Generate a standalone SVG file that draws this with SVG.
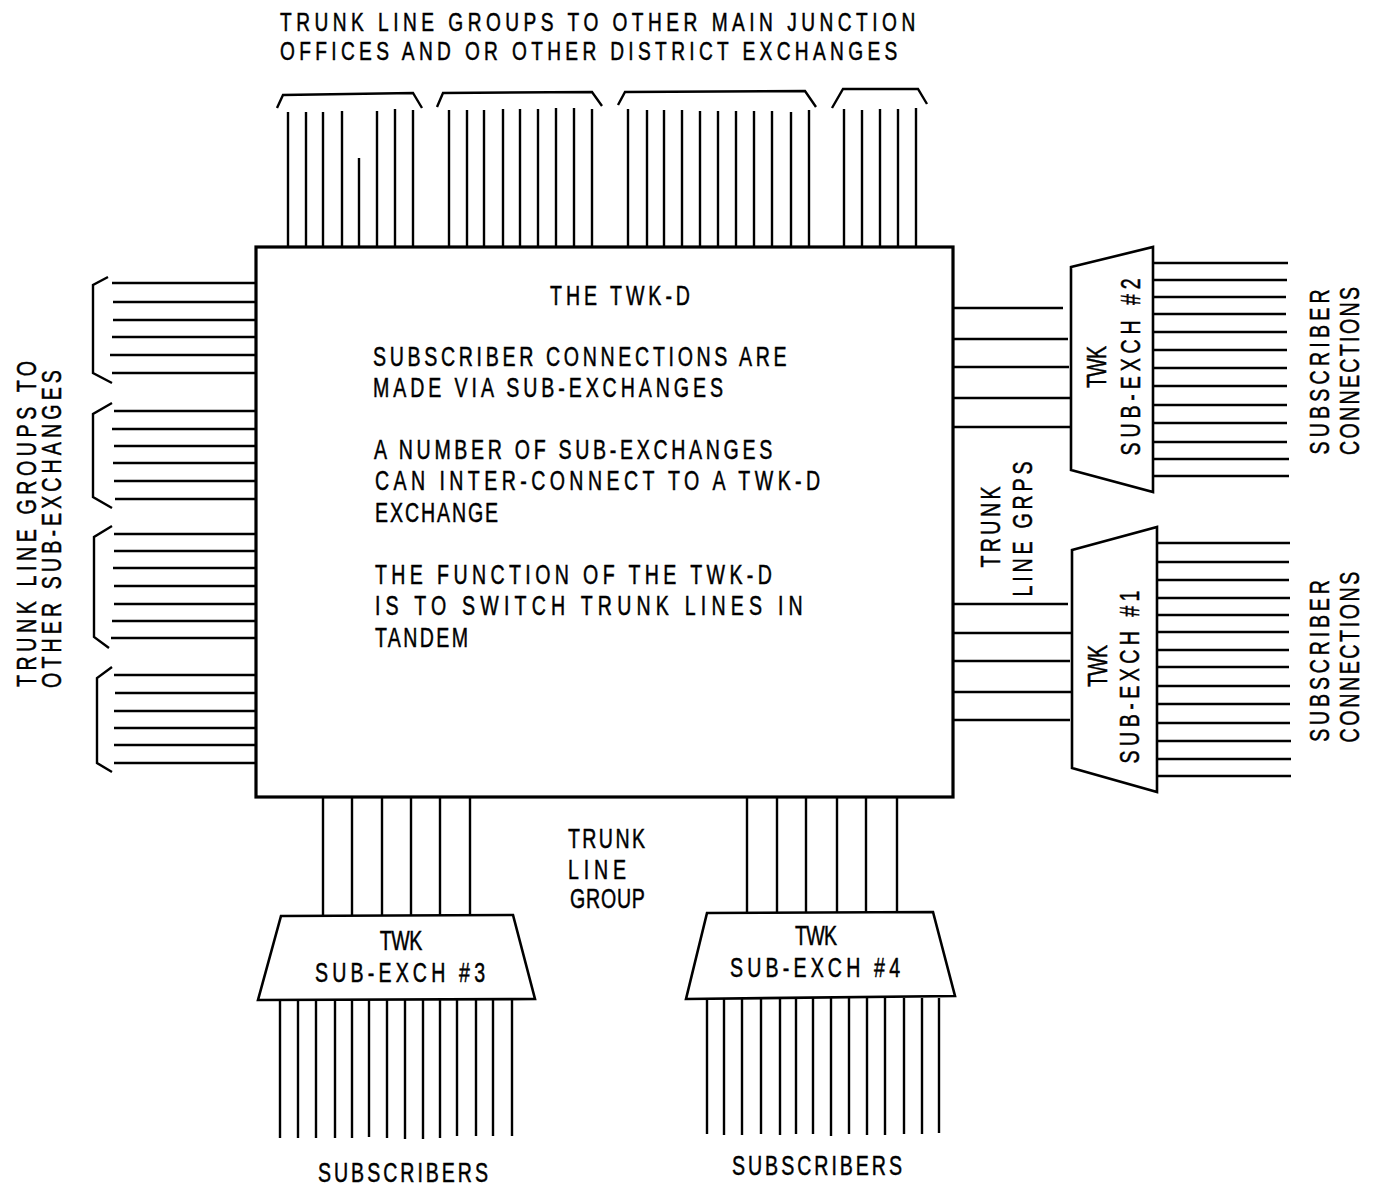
<svg xmlns="http://www.w3.org/2000/svg" width="1377" height="1187" viewBox="0 0 1377 1187">
<style>
.ln{stroke:#000;stroke-width:2.4;fill:none;stroke-linecap:butt}
.br{stroke:#000;stroke-width:2.4;fill:none;stroke-linejoin:miter}
.box{stroke:#000;stroke-width:3.2;fill:#fff}
.tz{stroke:#000;stroke-width:2.6;fill:#fff;stroke-linejoin:miter}
text{font-family:"Liberation Sans",Arial,sans-serif;font-size:28px;fill:#000;stroke:#000;stroke-width:0.5}
.hd{font-size:25.5px}
</style>
<rect width="1377" height="1187" fill="#fff"/>
<g id="connectors">
<g class="ln">
<line x1="288" y1="112" x2="288" y2="247"/><line x1="306" y1="112" x2="306" y2="247"/><line x1="323" y1="112" x2="323" y2="247"/><line x1="342" y1="111" x2="342" y2="247"/><line x1="359" y1="158" x2="359" y2="247"/><line x1="377" y1="111" x2="377" y2="247"/><line x1="395" y1="109" x2="395" y2="247"/><line x1="413" y1="110" x2="413" y2="247"/>
<line x1="449" y1="110" x2="449" y2="247"/><line x1="467" y1="110" x2="467" y2="247"/><line x1="484" y1="110" x2="484" y2="247"/><line x1="503" y1="109" x2="503" y2="247"/><line x1="520" y1="109" x2="520" y2="247"/><line x1="538" y1="109" x2="538" y2="247"/><line x1="556" y1="108" x2="556" y2="247"/><line x1="574" y1="108" x2="574" y2="247"/><line x1="592" y1="109" x2="592" y2="247"/>
<line x1="628" y1="109" x2="628" y2="247"/><line x1="647" y1="110" x2="647" y2="247"/><line x1="664" y1="110" x2="664" y2="247"/><line x1="682" y1="110" x2="682" y2="247"/><line x1="700" y1="111" x2="700" y2="247"/><line x1="718" y1="111" x2="718" y2="247"/><line x1="736" y1="111" x2="736" y2="247"/><line x1="754" y1="111" x2="754" y2="247"/><line x1="772" y1="111" x2="772" y2="247"/><line x1="791" y1="112" x2="791" y2="247"/><line x1="809" y1="110" x2="809" y2="247"/>
<line x1="844" y1="109" x2="844" y2="247"/><line x1="862" y1="110" x2="862" y2="247"/><line x1="880" y1="109" x2="880" y2="247"/><line x1="898" y1="109" x2="898" y2="247"/><line x1="916" y1="108" x2="916" y2="247"/>
</g>
<path class="br" d="M277,108 L283,95 L413,93 L422,108"/>
<path class="br" d="M437,107 L443,93 L592,92 L602,106"/>
<path class="br" d="M618,105 L625,92 L805,91 L816,107"/>
<path class="br" d="M832,108 L843,89 L918,89 L927,104"/>
<g class="ln">
<line x1="112" y1="283" x2="256" y2="283"/><line x1="113" y1="302" x2="256" y2="302"/><line x1="113" y1="320" x2="256" y2="320"/><line x1="112" y1="337" x2="256" y2="337"/><line x1="110" y1="355" x2="256" y2="355"/><line x1="112" y1="373" x2="256" y2="373"/>
<line x1="114" y1="411" x2="256" y2="411"/><line x1="112" y1="429" x2="256" y2="429"/><line x1="114" y1="446" x2="256" y2="446"/><line x1="113" y1="463" x2="256" y2="463"/><line x1="114" y1="481" x2="256" y2="481"/><line x1="115" y1="499" x2="256" y2="499"/>
<line x1="114" y1="534" x2="256" y2="534"/><line x1="114" y1="551" x2="256" y2="551"/><line x1="113" y1="568" x2="256" y2="568"/><line x1="114" y1="586" x2="256" y2="586"/><line x1="114" y1="604" x2="256" y2="604"/><line x1="112" y1="621" x2="256" y2="621"/><line x1="111" y1="638" x2="256" y2="638"/>
<line x1="114" y1="675" x2="256" y2="675"/><line x1="115" y1="693" x2="256" y2="693"/><line x1="114" y1="711" x2="256" y2="711"/><line x1="114" y1="728" x2="256" y2="728"/><line x1="114" y1="745" x2="256" y2="745"/><line x1="114" y1="763" x2="256" y2="763"/>
</g>
<path class="br" d="M108,277 L93,285 L93,373 L112,383"/>
<path class="br" d="M112,403 L93,414 L93,497 L112,508"/>
<path class="br" d="M112,526 L94,537 L94,637 L109,648"/>
<path class="br" d="M112,667 L97,678 L97,763 L112,772"/>
<g class="ln">
<line x1="953" y1="308" x2="1063" y2="308"/><line x1="953" y1="339" x2="1068" y2="339"/><line x1="953" y1="367" x2="1069" y2="367"/><line x1="953" y1="398" x2="1070" y2="398"/><line x1="953" y1="427" x2="1070" y2="427"/>
</g>
<g class="ln">
<line x1="1153" y1="263" x2="1288" y2="263"/><line x1="1153" y1="280" x2="1287" y2="280"/><line x1="1153" y1="297" x2="1286" y2="297"/><line x1="1153" y1="314" x2="1286" y2="314"/><line x1="1153" y1="332" x2="1287" y2="332"/><line x1="1153" y1="350" x2="1287" y2="350"/><line x1="1153" y1="368" x2="1287" y2="368"/><line x1="1153" y1="386" x2="1287" y2="386"/><line x1="1153" y1="405" x2="1287" y2="405"/><line x1="1153" y1="423" x2="1287" y2="423"/><line x1="1153" y1="442" x2="1287" y2="442"/><line x1="1153" y1="459" x2="1289" y2="459"/><line x1="1153" y1="476" x2="1289" y2="476"/>
</g>
<g class="ln">
<line x1="953" y1="604" x2="1068" y2="604"/><line x1="953" y1="633" x2="1072" y2="633"/><line x1="953" y1="661" x2="1070" y2="661"/><line x1="953" y1="692" x2="1072" y2="692"/><line x1="953" y1="720" x2="1070" y2="720"/>
</g>
<g class="ln">
<line x1="1157" y1="543" x2="1290" y2="543"/><line x1="1157" y1="562" x2="1289" y2="562"/><line x1="1157" y1="580" x2="1289" y2="580"/><line x1="1157" y1="598" x2="1290" y2="598"/><line x1="1157" y1="615" x2="1289" y2="615"/><line x1="1157" y1="632" x2="1289" y2="632"/><line x1="1157" y1="650" x2="1289" y2="650"/><line x1="1157" y1="667" x2="1289" y2="667"/><line x1="1157" y1="686" x2="1290" y2="686"/><line x1="1157" y1="704" x2="1290" y2="704"/><line x1="1157" y1="723" x2="1290" y2="723"/><line x1="1157" y1="741" x2="1291" y2="741"/><line x1="1157" y1="759" x2="1291" y2="759"/><line x1="1157" y1="776" x2="1291" y2="776"/>
</g>
<g class="ln">
<line x1="323" y1="797" x2="323" y2="916"/><line x1="352" y1="797" x2="352" y2="916"/><line x1="382" y1="797" x2="382" y2="916"/><line x1="411" y1="797" x2="411" y2="916"/><line x1="440" y1="797" x2="440" y2="916"/><line x1="470" y1="797" x2="470" y2="916"/>
</g>
<g class="ln">
<line x1="280" y1="1000" x2="280" y2="1138"/><line x1="298" y1="1000" x2="298" y2="1138"/><line x1="316" y1="1000" x2="316" y2="1138"/><line x1="335" y1="1000" x2="335" y2="1138"/><line x1="352" y1="1000" x2="352" y2="1138"/><line x1="369" y1="1000" x2="369" y2="1137"/><line x1="387" y1="1000" x2="387" y2="1138"/><line x1="405" y1="1000" x2="405" y2="1139"/><line x1="423" y1="1000" x2="423" y2="1139"/><line x1="440" y1="1000" x2="440" y2="1138"/><line x1="457" y1="1000" x2="457" y2="1136"/><line x1="476" y1="1000" x2="476" y2="1136"/><line x1="493" y1="1000" x2="493" y2="1136"/><line x1="512" y1="1000" x2="512" y2="1136"/>
</g>
<g class="ln">
<line x1="747" y1="797" x2="747" y2="912"/><line x1="777" y1="797" x2="777" y2="912"/><line x1="806" y1="797" x2="806" y2="912"/><line x1="837" y1="797" x2="837" y2="912"/><line x1="866" y1="797" x2="866" y2="912"/><line x1="897" y1="797" x2="897" y2="912"/>
</g>
<g class="ln">
<line x1="707" y1="998" x2="707" y2="1134"/><line x1="724" y1="998" x2="724" y2="1135"/><line x1="742" y1="998" x2="742" y2="1135"/><line x1="761" y1="998" x2="761" y2="1134"/><line x1="780" y1="998" x2="780" y2="1135"/><line x1="796" y1="998" x2="796" y2="1134"/><line x1="813" y1="998" x2="813" y2="1134"/><line x1="831" y1="998" x2="831" y2="1136"/><line x1="849" y1="998" x2="849" y2="1134"/><line x1="867" y1="998" x2="867" y2="1135"/><line x1="885" y1="998" x2="885" y2="1135"/><line x1="904" y1="998" x2="904" y2="1134"/><line x1="922" y1="998" x2="922" y2="1134"/><line x1="939" y1="998" x2="939" y2="1133"/>
</g>
</g>
<g id="twk-d">
<rect class="box" x="256" y="247" width="697" height="550"/>
<text transform="translate(550,305) scale(0.7,1)" textLength="200" lengthAdjust="spacing">THE TWK-D</text>
<text transform="translate(373,366) scale(0.7,1)" textLength="591" lengthAdjust="spacing">SUBSCRIBER CONNECTIONS ARE</text>
<text transform="translate(373,397) scale(0.7,1)" textLength="500" lengthAdjust="spacing">MADE VIA SUB-EXCHANGES</text>
<text transform="translate(374,459) scale(0.7,1)" textLength="569" lengthAdjust="spacing">A NUMBER OF SUB-EXCHANGES</text>
<text transform="translate(375,490) scale(0.7,1)" textLength="636" lengthAdjust="spacing">CAN INTER-CONNECT TO A TWK-D</text>
<text transform="translate(375,522) scale(0.7,1)" textLength="176" lengthAdjust="spacing">EXCHANGE</text>
<text transform="translate(375,584) scale(0.7,1)" textLength="567" lengthAdjust="spacing">THE FUNCTION OF THE TWK-D</text>
<text transform="translate(375,615) scale(0.7,1)" textLength="611" lengthAdjust="spacing">IS TO SWITCH TRUNK LINES IN</text>
<text transform="translate(375,647) scale(0.7,1)" textLength="133" lengthAdjust="spacing">TANDEM</text>
</g>
<g id="sub-exch-2">
<polygon class="tz" points="1071,267 1153,247 1153,492 1071,470"/>
<text transform="translate(1096,367) rotate(-90) scale(0.7,1)" y="10" text-anchor="middle" textLength="60" lengthAdjust="spacing">TWK</text>
<text transform="translate(1130,367) rotate(-90) scale(0.7,1)" y="10" text-anchor="middle" textLength="253" lengthAdjust="spacing">SUB-EXCH #2</text>
</g>
<g id="sub-exch-1">
<polygon class="tz" points="1072,550 1157,527 1157,792 1072,768"/>
<text transform="translate(1097,666) rotate(-90) scale(0.7,1)" y="10" text-anchor="middle" textLength="60" lengthAdjust="spacing">TWK</text>
<text transform="translate(1129,677) rotate(-90) scale(0.7,1)" y="10" text-anchor="middle" textLength="247" lengthAdjust="spacing">SUB-EXCH #1</text>
</g>
<g id="sub-exch-3">
<polygon class="tz" points="281,916 513,915 535,999 258,1000"/>
<text transform="translate(401,950) scale(0.7,1)" text-anchor="middle" textLength="61" lengthAdjust="spacing">TWK</text>
<text transform="translate(400,982) scale(0.7,1)" text-anchor="middle" textLength="243" lengthAdjust="spacing">SUB-EXCH #3</text>
</g>
<g id="sub-exch-4">
<polygon class="tz" points="707,913 933,912 955,996 686,999"/>
<text transform="translate(816,945) scale(0.7,1)" text-anchor="middle" textLength="60" lengthAdjust="spacing">TWK</text>
<text transform="translate(815,977) scale(0.7,1)" text-anchor="middle" textLength="243" lengthAdjust="spacing">SUB-EXCH #4</text>
</g>
<g id="labels">
<text class="hd" transform="translate(280,31) scale(0.75,1)" textLength="847" lengthAdjust="spacing">TRUNK LINE GROUPS TO OTHER MAIN JUNCTION</text>
<text class="hd" transform="translate(280,60) scale(0.75,1)" textLength="823" lengthAdjust="spacing">OFFICES AND OR OTHER DISTRICT EXCHANGES</text>
<text transform="translate(26,524) rotate(-90) scale(0.7,1)" y="10" text-anchor="middle" textLength="466" lengthAdjust="spacing">TRUNK LINE GROUPS TO</text>
<text transform="translate(51,529) rotate(-90) scale(0.7,1)" y="10" text-anchor="middle" textLength="454" lengthAdjust="spacing">OTHER SUB-EXCHANGES</text>
<text transform="translate(990,527) rotate(-90) scale(0.7,1)" y="10" text-anchor="middle" textLength="116" lengthAdjust="spacing">TRUNK</text>
<text transform="translate(1022,529) rotate(-90) scale(0.7,1)" y="10" text-anchor="middle" textLength="193" lengthAdjust="spacing">LINE GRPS</text>
<text transform="translate(1319,372) rotate(-90) scale(0.7,1)" y="10" text-anchor="middle" textLength="236" lengthAdjust="spacing">SUBSCRIBER</text>
<text transform="translate(1349,371) rotate(-90) scale(0.7,1)" y="10" text-anchor="middle" textLength="240" lengthAdjust="spacing">CONNECTIONS</text>
<text transform="translate(1319,661) rotate(-90) scale(0.7,1)" y="10" text-anchor="middle" textLength="231" lengthAdjust="spacing">SUBSCRIBER</text>
<text transform="translate(1349,657) rotate(-90) scale(0.7,1)" y="10" text-anchor="middle" textLength="244" lengthAdjust="spacing">CONNECTIONS</text>
<text transform="translate(568,848) scale(0.7,1)" textLength="110" lengthAdjust="spacing">TRUNK</text>
<text transform="translate(568,879) scale(0.7,1)" textLength="83" lengthAdjust="spacing">LINE</text>
<text transform="translate(570,908) scale(0.7,1)" textLength="107" lengthAdjust="spacing">GROUP</text>
<text transform="translate(403,1182) scale(0.7,1)" text-anchor="middle" textLength="243" lengthAdjust="spacing">SUBSCRIBERS</text>
<text transform="translate(817,1175) scale(0.7,1)" text-anchor="middle" textLength="243" lengthAdjust="spacing">SUBSCRIBERS</text>
</g>
</svg>
